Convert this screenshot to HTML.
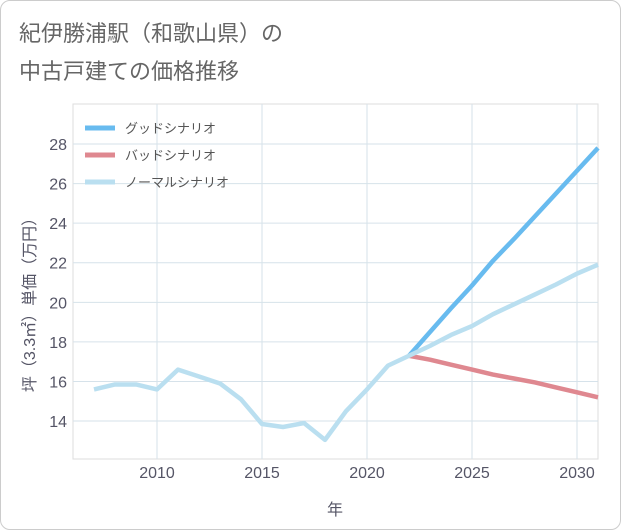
<!DOCTYPE html>
<html><head><meta charset="utf-8"><style>
body{margin:0;background:#fff;font-family:"Liberation Sans","Noto Sans CJK JP",sans-serif}
#wrap{position:relative;width:619px;height:528px;border:1px solid #ccc;border-radius:10px;overflow:hidden}
</style></head><body>
<div id="wrap">
<svg id="c" width="621" height="530"></svg>
</div>
<script>
const years=[2007,2008,2009,2010,2011,2012,2013,2014,2015,2016,2017,2018,2019,2020,2021,2022,2023,2024,2025,2026,2027,2028,2029,2030,2031];
const normal=[15.6,15.85,15.85,15.6,16.6,16.25,15.9,15.1,13.85,13.7,13.9,13.05,14.5,15.6,16.8,17.3,17.8,18.35,18.8,19.4,19.9,20.4,20.9,21.45,21.9];
const futureYears=[2022,2023,2024,2025,2026,2027,2028,2029,2030,2031];
const good=[17.3,18.5,19.7,20.85,22.1,23.2,24.35,25.5,26.65,27.8];
const bad=[17.3,17.1,16.85,16.6,16.35,16.15,15.95,15.7,15.45,15.2];
const xTicks=[2010,2015,2020,2025,2030];
const yTicks=[14,16,18,20,22,24,26,28];
const names=["グッドシナリオ","バッドシナリオ","ノーマルシナリオ"];
const colors=["#68bbef","#df8890","#badff0"];
const L=72,R=597,T=103,B=458;
const x=v=>156+(v-2010)*21;
const y=v=>143+(28-v)*19.79;
const NS="http://www.w3.org/2000/svg";
const svg=document.getElementById('c');
function mk(t,a,p){const e=document.createElementNS(NS,t);for(const k in a)e.setAttribute(k,a[k]);(p||svg).appendChild(e);return e;}
function tx(s,a){const e=mk('text',a);e.textContent=s;return e;}
const t1=tx("紀伊勝浦駅（和歌山県）の",{x:18,y:40,'font-size':22,fill:'#666'});

const t2=tx("中古戸建ての価格推移",{x:18,y:78,'font-size':22,fill:'#666'});

const bg=mk('rect',{x:L,y:T,width:R-L,height:B-T,fill:'#fff',stroke:'#ddd'});

xTicks.forEach(v=>{const g=mk('line',{x1:x(v),x2:x(v),y1:T,y2:B,stroke:'#d6e2ea'});

const l=tx(v,{x:x(v),y:477,'text-anchor':'middle','font-size':16,fill:'#556'});
});
yTicks.forEach(v=>{const g=mk('line',{x1:L,x2:R,y1:y(v),y2:y(v),stroke:'#d6e2ea'});

const l=tx(v,{x:66,y:y(v)+6,'text-anchor':'end','font-size':16,fill:'#556'});
});
const xt=tx("年",{x:334,y:514,'text-anchor':'middle','font-size':16,fill:'#556'});

const yt=tx("坪（3.3㎡）単価（万円）",{x:0,y:0,'text-anchor':'middle','font-size':16,fill:'#556',transform:'translate(34,300) rotate(-90)'});

function line(xs,vs,c,n){const p=mk('polyline',{points:xs.map((v,i)=>x(v)+','+y(vs[i])).join(' '),fill:'none',stroke:c,'stroke-width':4.5,'stroke-linejoin':'round'});
}
line(futureYears,good,colors[0],'good-scenario-line');
line(futureYears,bad,colors[1],'bad-scenario-line');
line(years,normal,colors[2],'normal-scenario-line');
names.forEach((n,i)=>{const yy=127+i*27;
const s=mk('line',{x1:84,x2:114,y1:yy,y2:yy,stroke:colors[i],'stroke-width':5});

const l=tx(n,{x:124,y:yy+5,'font-size':13,fill:'#555'});
});
</script>
</body></html>
